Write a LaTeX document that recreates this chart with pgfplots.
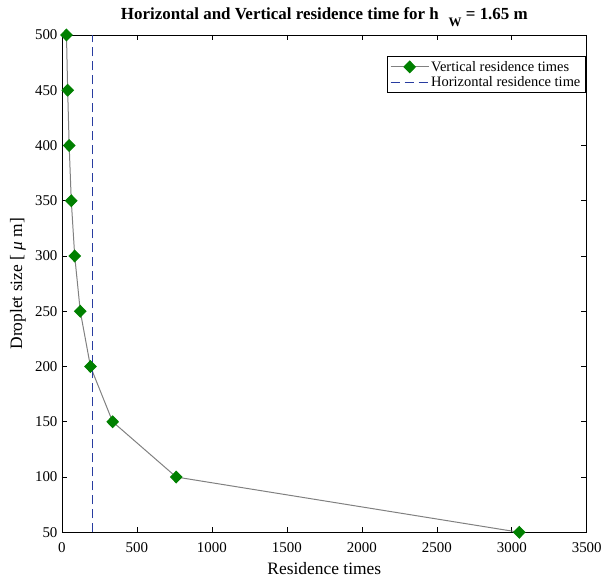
\documentclass[border=0pt]{standalone}
\usepackage{fontspec}
\setmainfont{Liberation Serif}
\usepackage{pgfplots}
\pgfplotsset{compat=1.18}

\definecolor{linegray}{RGB}{128,128,128}
\definecolor{markgreen}{RGB}{0,128,0}
\definecolor{dashblue}{RGB}{40,60,160}

\begin{document}
\begin{tikzpicture}
\path (-62bp,-49.5bp) rectangle (543bp,532.5bp);
\begin{axis}[
  scale only axis,
  width=525bp, height=497.5bp,
  xmin=0, xmax=3500, ymin=50, ymax=500,
  xtick={0,500,...,3500}, ytick={50,100,...,500},
  tick align=inside,
  major tick length=5.5bp,
  axis line style={black, line width=0.6pt},
  tick style={black, line width=0.6pt},
  /pgf/number format/assume math mode=true,
  /pgf/number format/1000 sep={},
  ticklabel style={font=\fontsize{15}{17}\selectfont},
  xticklabel style={yshift=-7bp},
  yticklabel style={xshift=-1bp},
  xlabel={Residence times},
  ylabel={Droplet size [ \textit{μ} m]},
  label style={font=\fontsize{17.5}{20}\selectfont},
  xlabel style={at={(axis description cs:0.5,0)}, anchor=base, yshift=-42bp},
  ylabel style={at={(axis description cs:0,0.5)}, anchor=center, yshift=44bp},
  title={\textbf{Horizontal and Vertical residence time for h\,\, \raisebox{-7bp}{\fontsize{13}{15}\selectfont W} = 1.65 m}},
  title style={font=\fontsize{17}{20}\selectfont, at={(axis description cs:0.5,1)}, anchor=base, yshift=10bp},
  legend style={at={(0.997,0.957)}, anchor=north east, draw=black, line width=0.6pt,
    font=\fontsize{14.5}{17}\selectfont, inner sep=2.5bp, row sep=0bp,
    cells={anchor=west}},
  legend image code/.code={%
    \draw[mark repeat=2,mark phase=2,#1] plot coordinates {(0bp,0bp) (19bp,0bp) (38bp,0bp)};},
]
\addplot[linegray, line width=1pt, mark=diamond*,
  mark options={fill=markgreen, draw=markgreen, xscale=1.3},
  mark size=5.8bp]
  coordinates {
    (3050,50) (762,100) (338,150) (190,200) (122,250)
    (85,300) (62,350) (48,400) (38,450) (30,500)
  };
\addlegendentry{Vertical residence times}
\addplot[dashblue, line width=1.1pt, dash pattern=on 9bp off 5bp]
  coordinates {(203,50) (203,500)};
\addlegendentry{Horizontal residence time}
\end{axis}
\end{tikzpicture}
\end{document}
